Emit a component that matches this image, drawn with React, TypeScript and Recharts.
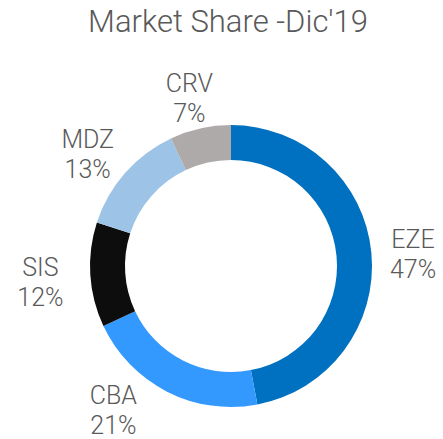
import { PieChart, Pie, Cell } from "recharts"

const regions = ["EZE", "CBA", "SIS", "MDZ", "CRV"]
const shares = [47, 21, 12, 13, 7]
const colors = ["#0070C0", "#3399FF", "#0D0D0D", "#9DC3E6", "#AEAAAA"]

const data = regions.map((name, i) => ({ name, value: shares[i] }))

const W = 443
const H = 439
const RAD = Math.PI / 180
const TEXT = "#595959"
const FONT = "Roboto, sans-serif"

function renderLabel(props: any) {
  const { cx, cy, midAngle, outerRadius, name, value } = props
  const lineGap = 30
  const half = lineGap
  const a = outerRadius + 50
  const b = outerRadius + 36
  const ccy = cy + 5
  // walk the label round the ring until it fits inside the chart
  let angle = midAngle
  let lx = cx + Math.cos(angle * RAD) * a
  let ly = ccy - Math.sin(angle * RAD) * b
  let step = 0
  while ((ly + half > H + 3 || ly - half < 60) && step < 90) {
    const toward = Math.cos(angle * RAD) < 0 ? 1 : -1
    angle += (Math.sin(angle * RAD) < 0 ? -toward : toward) * 1
    lx = cx + Math.cos(angle * RAD) * a
    ly = ccy - Math.sin(angle * RAD) * b
    step++
  }
  lx = Math.max(30, Math.min(W - 30, lx))
  const base = ly - 6
  return (
    <text
      x={lx}
      y={base}
      textAnchor="middle"
      fill={TEXT}
      fontFamily={FONT}
      fontWeight={300}
      fontSize={25}
    >
      <tspan x={lx} y={base}>{name}</tspan>
      <tspan x={lx} y={base + lineGap}>{`${value}%`}</tspan>
    </text>
  )
}

export default function App() {
  return (
    <div style={{ position: "absolute", left: 0, top: 0, width: W, height: H, background: "#fff" }}>
      <PieChart width={W} height={H} margin={{ top: 0, right: 0, bottom: 0, left: 0 }}>
        <text
          x={228}
          y={32}
          textAnchor="middle"
          fill={TEXT}
          fontFamily={FONT}
          fontWeight={300}
          fontSize={31}
        >
          Market Share -Dic'19
        </text>
        <Pie
          data={data}
          dataKey="value"
          nameKey="name"
          cx={231}
          cy={266}
          innerRadius={106}
          outerRadius={141}
          startAngle={90}
          endAngle={-270}
          stroke="none"
          label={renderLabel}
          labelLine={false}
          isAnimationActive={false}
        >
          {data.map((d, i) => (
            <Cell key={d.name} fill={colors[i]} />
          ))}
        </Pie>
      </PieChart>
    </div>
  )
}
